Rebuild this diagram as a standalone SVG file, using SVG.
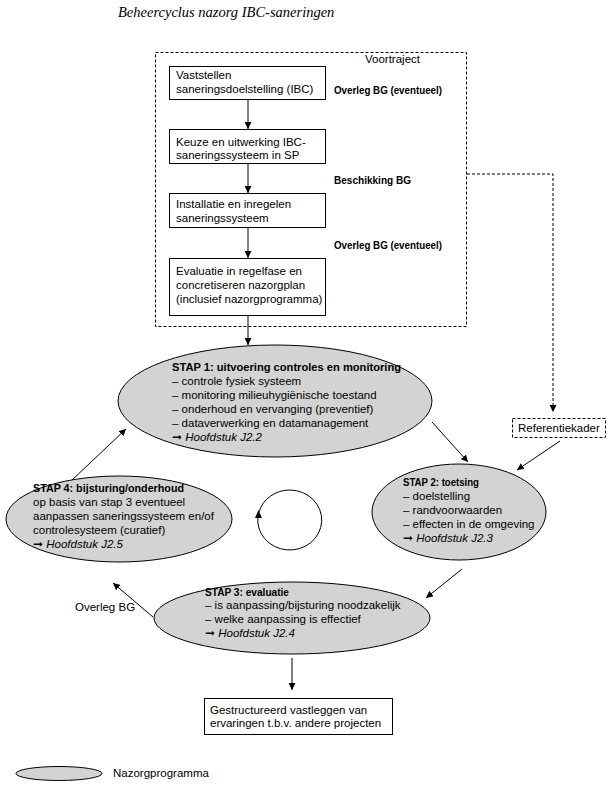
<svg xmlns="http://www.w3.org/2000/svg" width="612" height="796" viewBox="0 0 612 796">
<defs>
<marker id="ah" viewBox="0 0 10 10" refX="10" refY="5" markerWidth="7" markerHeight="7" markerUnits="userSpaceOnUse" orient="auto">
<path d="M0,0 L10,5 L0,10 z" fill="#000"/>
</marker>
<style>
.t{font-family:"Liberation Sans Narrow","Liberation Sans",Arial,sans-serif;font-size:11.5px;fill:#000}
.b{font-weight:bold}
.i{font-style:italic}
.box{fill:#fff;stroke:#000;stroke-width:1}
.dash{fill:none;stroke:#000;stroke-width:1;stroke-dasharray:3,2}
.ell{fill:#d3d3d3;stroke:#000;stroke-width:1}
.ln{fill:none;stroke:#000;stroke-width:1;marker-end:url(#ah)}
.title{font-family:"Liberation Serif","Times New Roman",serif;font-style:italic;font-size:14.5px;fill:#000}
</style>
</defs>
<rect width="612" height="796" fill="#fff"/>
<text class="title" x="118" y="17">Beheercyclus nazorg IBC-saneringen</text>

<g id="voortraject">
<rect class="dash" x="155.5" y="52.5" width="311" height="274"/>
<text class="t" x="365" y="63">Voortraject</text>
</g>

<g id="box1">
<rect class="box" x="169.5" y="66.5" width="156" height="33"/>
<text class="t" x="176" y="79">Vaststellen</text>
<text class="t" x="176" y="93">saneringsdoelstelling (IBC)</text>
</g>
<g id="box2">
<rect class="box" x="169.5" y="129.5" width="156" height="34"/>
<text class="t" x="176" y="146">Keuze en uitwerking IBC-</text>
<text class="t" x="176" y="159">saneringssysteem in SP</text>
</g>
<g id="box3">
<rect class="box" x="169.5" y="193.5" width="156" height="34"/>
<text class="t" x="176" y="208">Installatie en inregelen</text>
<text class="t" x="176" y="222">saneringssysteem</text>
</g>
<g id="box4">
<rect class="box" x="169.5" y="258.5" width="156" height="57"/>
<text class="t" x="176" y="275">Evaluatie in regelfase en</text>
<text class="t" x="176" y="289">concretiseren nazorgplan</text>
<text class="t" x="176" y="303">(inclusief nazorgprogramma)</text>
</g>

<g id="labels">
<text class="t b" x="334" y="94" textLength="108" lengthAdjust="spacingAndGlyphs">Overleg BG (eventueel)</text>
<text class="t b" x="334" y="184" textLength="77" lengthAdjust="spacingAndGlyphs">Beschikking BG</text>
<text class="t b" x="334" y="249" textLength="108" lengthAdjust="spacingAndGlyphs">Overleg BG (eventueel)</text>
<text class="t" x="75" y="611">Overleg BG</text>
</g>

<g id="referentiekader">
<rect class="dash" x="512.5" y="418.5" width="93" height="19"/>
<text class="t" x="518" y="432">Referentiekader</text>
</g>

<g id="stap1">
<ellipse class="ell" cx="275" cy="401" rx="157" ry="56"/>
<text class="t b" x="172" y="371" textLength="229" lengthAdjust="spacingAndGlyphs">STAP 1: uitvoering controles en monitoring</text>
<text class="t" x="172" y="385">– controle fysiek systeem</text>
<text class="t" x="172" y="399">– monitoring milieuhygiënische toestand</text>
<text class="t" x="172" y="413">– onderhoud en vervanging (preventief)</text>
<text class="t" x="172" y="427">– dataverwerking en datamanagement</text>
<text class="t" x="172" y="441"><tspan>➞</tspan> <tspan class="i">Hoofdstuk J2.2</tspan></text>
</g>

<g id="stap2">
<ellipse class="ell" cx="459" cy="512" rx="87" ry="48"/>
<text class="t b" x="403" y="486" textLength="76" lengthAdjust="spacingAndGlyphs">STAP 2: toetsing</text>
<text class="t" x="403" y="500">– doelstelling</text>
<text class="t" x="403" y="514">– randvoorwaarden</text>
<text class="t" x="403" y="528">– effecten in de omgeving</text>
<text class="t" x="403" y="542"><tspan>➞</tspan> <tspan class="i">Hoofdstuk J2.3</tspan></text>
</g>

<g id="stap3">
<ellipse class="ell" cx="292" cy="618" rx="138" ry="36"/>
<text class="t b" x="205" y="596" textLength="84" lengthAdjust="spacingAndGlyphs">STAP 3: evaluatie</text>
<text class="t" x="205" y="609">– is aanpassing/bijsturing noodzakelijk</text>
<text class="t" x="205" y="623">– welke aanpassing is effectief</text>
<text class="t" x="205" y="637"><tspan>➞</tspan> <tspan class="i">Hoofdstuk J2.4</tspan></text>
</g>

<g id="stap4">
<ellipse class="ell" cx="119" cy="519" rx="113" ry="43"/>
<text class="t b" x="33" y="492" textLength="151" lengthAdjust="spacingAndGlyphs">STAP 4: bijsturing/onderhoud</text>
<text class="t" x="33" y="506">op basis van stap 3 eventueel</text>
<text class="t" x="33" y="520">aanpassen saneringssysteem en/of</text>
<text class="t" x="33" y="534">controlesysteem (curatief)</text>
<text class="t" x="33" y="548"><tspan>➞</tspan> <tspan class="i">Hoofdstuk J2.5</tspan></text>
</g>

<g id="box5">
<rect class="box" x="204.5" y="698.5" width="188" height="36"/>
<text class="t" x="210" y="714">Gestructureerd vastleggen van</text>
<text class="t" x="210" y="727">ervaringen t.b.v. andere projecten</text>
</g>

<g id="cycle">
<path d="M258,516 A32,30 0 1,0 290,490 A32,30 0 0,0 259,512" fill="none" stroke="#000" stroke-width="1"/>
<path d="M255,518 L258.5,510 L262,518 z" fill="#000"/>
</g>

<g id="legend">
<ellipse class="ell" cx="59" cy="773.5" rx="43" ry="7"/>
<text class="t" x="113" y="777">Nazorgprogramma</text>
</g>

<g id="connectors">
<line class="ln" x1="248" y1="100" x2="248" y2="129"/>
<line class="ln" x1="248" y1="164" x2="248" y2="193"/>
<line class="ln" x1="248" y1="228" x2="248" y2="258"/>
<line class="ln" x1="248" y1="316" x2="248" y2="345"/>
<polyline class="dash" points="467,174 553,174 553,412" style="marker-end:url(#ah)"/>
<line class="ln" x1="560" y1="441" x2="517" y2="470"/>
<line class="ln" x1="432" y1="422" x2="468" y2="462"/>
<line class="ln" x1="462" y1="569" x2="426" y2="598"/>
<line class="ln" x1="153" y1="617" x2="113" y2="583"/>
<line class="ln" x1="72" y1="480" x2="126" y2="429"/>
<line class="ln" x1="292" y1="658" x2="292" y2="690"/>
</g>
</svg>
